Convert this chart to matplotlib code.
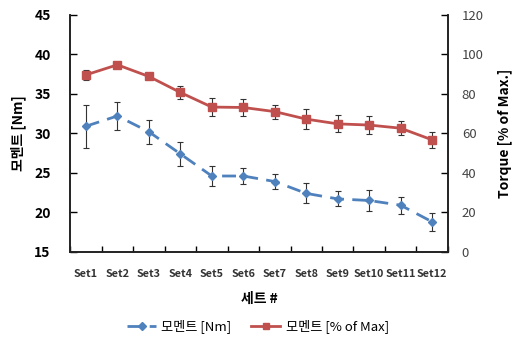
import numpy as np
import matplotlib.pyplot as plt
from matplotlib.lines import Line2D
from matplotlib.ticker import FixedLocator

plt.rcParams['font.family'] = ['Noto Sans CJK KR', 'DejaVu Sans']

sets = ['Set1', 'Set2', 'Set3', 'Set4', 'Set5', 'Set6',
        'Set7', 'Set8', 'Set9', 'Set10', 'Set11', 'Set12']
moment_nm = [30.9, 32.2, 30.2, 27.4, 24.6, 24.6, 23.9, 22.4, 21.7, 21.5, 20.9, 18.8]
moment_nm_err = [2.7, 1.8, 1.5, 1.5, 1.3, 1.05, 1.0, 1.27, 0.95, 1.35, 1.05, 1.14]
moment_pct = [89.6, 94.7, 88.8, 80.7, 73.3, 73.1, 71.0, 67.2, 64.8, 64.2, 62.6, 56.7]
moment_pct_err = [2.7, 1.0, 0.8, 3.5, 4.6, 4.2, 3.6, 5.0, 4.3, 4.6, 3.6, 4.0]

x = np.arange(len(sets))
blue = '#4F81BD'
red = '#C0504D'
dash = (0, (5, 3))

fig = plt.figure(figsize=(5.16, 3.45), dpi=100)
ax = fig.add_axes([0.136, 0.270, 0.732, 0.687])
ax2 = ax.twinx()

ax.errorbar(x, moment_nm, yerr=moment_nm_err, color=blue, ls=dash, lw=2,
            marker='D', ms=4.5, ecolor='#333333', elinewidth=0.8, capsize=2.5,
            capthick=0.8)
ax2.errorbar(x, moment_pct, yerr=moment_pct_err, color=red, ls='-', lw=2,
             marker='s', ms=6, ecolor='#333333', elinewidth=0.8, capsize=2.5,
             capthick=0.8)

ax.set_xlim(-0.5, len(sets) - 0.5)
ax.set_ylim(15, 45)
ax.set_yticks(np.arange(15, 46, 5))
ax2.set_ylim(0, 120)
ax2.set_yticks(np.arange(0, 121, 20))

ax.set_xticks(x)
ax.set_xticklabels(sets, fontsize=7.8, fontweight='bold', color='#333333')
ax.tick_params(axis='x', which='major', length=0, pad=12)
ax.xaxis.set_minor_locator(FixedLocator(np.arange(-0.5, len(sets), 1)))
ax.tick_params(axis='x', which='minor', direction='in', length=4, width=1)
ax.tick_params(axis='y', direction='in', length=5, width=1, labelsize=10, pad=14)
for t in ax.get_yticklabels():
    t.set_fontweight('bold')
ax2.tick_params(axis='y', direction='in', length=5, width=1, labelsize=9.5,
                pad=10, labelcolor='#444444')

for a in (ax, ax2):
    a.spines['top'].set_visible(False)
    for s in ('left', 'bottom', 'right'):
        a.spines[s].set_linewidth(1.2)
        a.spines[s].set_color('#222222')

ax.set_ylabel('모멘트 [Nm]', fontsize=10, fontweight='bold', labelpad=6)
ax2.set_ylabel('Torque [% of Max.]', fontsize=10, fontweight='bold', labelpad=10)
ax.set_xlabel('세트 #', fontsize=10, fontweight='bold', labelpad=10)

handles = [Line2D([], [], color=blue, ls=dash, lw=2, marker='D', ms=4.5),
           Line2D([], [], color=red, ls='-', lw=2, marker='s', ms=5)]
fig.legend(handles, ['모멘트 [Nm]', '모멘트 [% of Max]'], loc='lower center',
           bbox_to_anchor=(0.5, 0.0), ncol=2, frameon=False, fontsize=9.5,
           handlelength=2.2, handletextpad=0.4, columnspacing=1.5)

fig.savefig('out.png', dpi=100)
